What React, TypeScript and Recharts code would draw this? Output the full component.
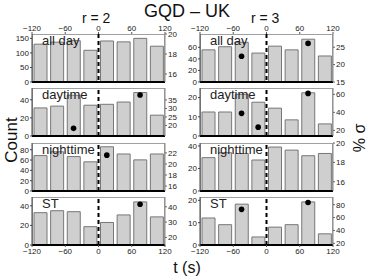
import React from 'react';
import { ComposedChart, Bar, Scatter, XAxis, YAxis, ReferenceLine } from 'recharts';

const BIN_CENTERS = [-105, -75, -45, -15, 15, 45, 75, 105];
const X_TICKS = [-120, -60, 0, 60, 120];

// r = 2
const COUNT_R2_ALL = [130, 137, 142, 109, 141, 138, 150, 123];
const SIGMA_R2_ALL = [null, null, null, null, null, null, null, null];
const COUNT_R2_DAY = [31, 33, 45, 34, 35, 37.5, 48, 23];
const SIGMA_R2_DAY = [null, null, 18.3, null, null, null, 37.9, null];
const COUNT_R2_NIGHT = [68.6, 76, 66.7, 56.5, 85.7, 71.7, 60.3, 71.7];
const SIGMA_R2_NIGHT = [null, null, null, null, 21.6, null, null, null];
const COUNT_R2_ST = [33, 35, 34, 18.7, 23, 30.7, 44, 28.7];
const SIGMA_R2_ST = [null, null, null, null, null, null, 41.7, null];

// r = 3
const COUNT_R3_ALL = [55.6, 61, 68.6, 50, 62, 55.6, 74, 45];
const SIGMA_R3_ALL = [null, null, 22.4, null, null, null, 26.1, null];
const COUNT_R3_DAY = [12.5, 12.5, 21.7, 17.6, 14.5, 8.4, 22.5, 6.3];
const SIGMA_R3_DAY = [null, null, 38.9, 23.6, null, null, 61, null];
const COUNT_R3_NIGHT = [29.6, 34, 33.3, 27.5, 39, 36.3, 31.3, 33.3];
const SIGMA_R3_NIGHT = [null, null, null, null, null, null, null, null];
const COUNT_R3_ST = [12.1, 9.1, 18.3, 3.6, 8, 9.1, 19.3, 5];
const SIGMA_R3_ST = [null, null, 72.8, null, null, null, 83.5, null];

const FONT = '"Liberation Sans", Arial, sans-serif';
const PANEL_TOPS = [34, 88, 143, 197];
const PANEL_H = 48;
const PLOT_W = 133;
const AXIS_W = 30;
const COL_PLOT_LEFT = [32, 200];
const AXIS_H = 14;
const PAD = 6;

const fmtX = (v: number) => (v < 0 ? `\u2212${-v}` : `${v}`);

type PanelProps = {
  col: number;
  row: number;
  label: string;
  counts: number[];
  sigma: (number | null)[];
  lDomain: [number, number];
  lTicks: number[];
  rDomain: [number, number];
  rTicks: number[];
};

const Dot = (p: any) => <circle cx={p.cx} cy={p.cy} r={2.8} fill="#000" />;

function Panel({ col, row, label, counts, sigma, lDomain, lTicks, rDomain, rTicks }: PanelProps) {
  const data = BIN_CENTERS.map((x, i) => ({ x, count: counts[i] }));
  const dots = BIN_CENTERS.map((x, i) => ({ x, s: sigma[i] })).filter((d) => d.s !== null);
  const isTop = row === 0;
  const isBottom = row === 3;
  const plotLeft = COL_PLOT_LEFT[col];
  const plotTop = PANEL_TOPS[row];
  const chartTop = (isTop ? plotTop - AXIS_H : plotTop) - PAD;
  const chartH = PANEL_H + (isTop || isBottom ? AXIS_H : 0) + 2 * PAD;
  const tickStyle = { fontSize: 8, fill: '#222', fontFamily: FONT };

  return (
    <>
      <div
        style={{
          position: 'absolute',
          left: plotLeft,
          top: plotTop,
          width: PLOT_W,
          height: PANEL_H,
          border: '1px solid #a0a0a0',
          boxSizing: 'border-box',
        }}
      />
      <div style={{ position: 'absolute', left: plotLeft - AXIS_W, top: chartTop }}>
        <ComposedChart
          width={PLOT_W + 2 * AXIS_W}
          height={chartH}
          data={data}
          margin={{ top: PAD, right: 0, bottom: PAD, left: 0 }}
        >
          <XAxis
            dataKey="x"
            type="number"
            domain={[-120, 120]}
            ticks={X_TICKS}
            tickFormatter={fmtX}
            orientation={isTop ? 'top' : 'bottom'}
            hide={!isTop && !isBottom}
            height={AXIS_H}
            tickSize={2}
            tickMargin={1}
            tick={tickStyle}
            axisLine={false}
            tickLine={{ stroke: '#555' }}
            interval={0}
          />
          <YAxis
            yAxisId="l"
            domain={lDomain}
            ticks={lTicks}
            allowDataOverflow
            width={AXIS_W}
            tickSize={2}
            tickMargin={1}
            tick={tickStyle}
            axisLine={{ stroke: '#444' }}
            tickLine={{ stroke: '#444' }}
            interval={0}
          />
          <YAxis
            yAxisId="r"
            orientation="right"
            domain={rDomain}
            ticks={rTicks}
            allowDataOverflow
            width={AXIS_W}
            tickSize={2}
            tickMargin={1}
            tick={tickStyle}
            axisLine={{ stroke: '#888' }}
            tickLine={{ stroke: '#666' }}
            interval={0}
          />
          <Bar
            yAxisId="l"
            dataKey="count"
            barSize={13}
            fill="#cfcfcf"
            stroke="#777"
            strokeWidth={1}
            isAnimationActive={false}
          />
          <ReferenceLine yAxisId="l" y={0} stroke="#000" strokeWidth={2} />
          <ReferenceLine yAxisId="l" x={0} stroke="#000" strokeWidth={2} strokeDasharray="4 3" />
          {dots.length > 0 && (
            <Scatter yAxisId="r" data={dots} dataKey="s" shape={Dot} isAnimationActive={false} />
          )}
        </ComposedChart>
      </div>
      <div
        style={{
          position: 'absolute',
          left: plotLeft + 10,
          top: plotTop - 1,
          fontSize: 13,
          fontFamily: FONT,
          color: '#222',
          lineHeight: '15px',
        }}
      >
        {label}
      </div>
    </>
  );
}

export default function App() {
  return (
    <div
      style={{
        position: 'fixed',
        left: 0,
        top: 0,
        width: 374,
        height: 279,
        background: '#fff',
        fontFamily: FONT,
        overflow: 'hidden',
      }}
    >
      <div style={{ position: 'absolute', left: 0, width: 374, top: 1, textAlign: 'center', fontSize: 18, color: '#111' }}>
        GQD &ndash; UK
      </div>
      <div style={{ position: 'absolute', left: 82, top: 10, fontSize: 14, color: '#111' }}>r = 2</div>
      <div style={{ position: 'absolute', left: 251, top: 10, fontSize: 14, color: '#111' }}>r = 3</div>

      <Panel col={0} row={0} label="all day" counts={COUNT_R2_ALL} sigma={SIGMA_R2_ALL}
        lDomain={[0, 165]} lTicks={[0, 50, 100, 150]} rDomain={[15.2, 20]} rTicks={[16, 18, 20]} />
      <Panel col={0} row={1} label="daytime" counts={COUNT_R2_DAY} sigma={SIGMA_R2_DAY}
        lDomain={[0, 53]} lTicks={[0, 20, 40]} rDomain={[13.8, 42]} rTicks={[20, 25, 30, 35]} />
      <Panel col={0} row={2} label="nighttime" counts={COUNT_R2_NIGHT} sigma={SIGMA_R2_NIGHT}
        lDomain={[0, 93]} lTicks={[0, 20, 40, 60, 80]} rDomain={[15.1, 23.8]} rTicks={[16, 18, 20, 22]} />
      <Panel col={0} row={3} label="ST" counts={COUNT_R2_ST} sigma={SIGMA_R2_ST}
        lDomain={[0, 49]} lTicks={[0, 20, 40]} rDomain={[15, 46.4]} rTicks={[20, 30, 40]} />

      <Panel col={1} row={0} label="all day" counts={COUNT_R3_ALL} sigma={SIGMA_R3_ALL}
        lDomain={[0, 83]} lTicks={[0, 20, 40, 60]} rDomain={[15, 28.8]} rTicks={[15, 20, 25]} />
      <Panel col={1} row={1} label="daytime" counts={COUNT_R3_DAY} sigma={SIGMA_R3_DAY}
        lDomain={[0, 25]} lTicks={[0, 10, 20]} rDomain={[13.8, 67]} rTicks={[20, 40, 60]} />
      <Panel col={1} row={2} label="nighttime" counts={COUNT_R3_NIGHT} sigma={SIGMA_R3_NIGHT}
        lDomain={[0, 42.6]} lTicks={[0, 20, 40]} rDomain={[15.05, 20]} rTicks={[16, 18, 20]} />
      <Panel col={1} row={3} label="ST" counts={COUNT_R3_ST} sigma={SIGMA_R3_ST}
        lDomain={[0, 21.5]} lTicks={[0, 10, 20]} rDomain={[17.4, 92]} rTicks={[20, 40, 60, 80]} />

      <div
        style={{
          position: 'absolute',
          left: 12,
          top: 140,
          transform: 'translate(-50%, -50%) rotate(-90deg)',
          fontSize: 17,
          color: '#111',
          whiteSpace: 'nowrap',
        }}
      >
        Count
      </div>
      <div style={{ position: 'absolute', left: 0, width: 374, top: 259, textAlign: 'center', fontSize: 16, color: '#111' }}>
        t (s)
      </div>
      <div
        style={{
          position: 'absolute',
          left: 360,
          top: 138,
          transform: 'translate(-50%, -50%) rotate(-90deg)',
          fontSize: 16,
          color: '#111',
          whiteSpace: 'nowrap',
        }}
      >
        % σ
      </div>
    </div>
  );
}
